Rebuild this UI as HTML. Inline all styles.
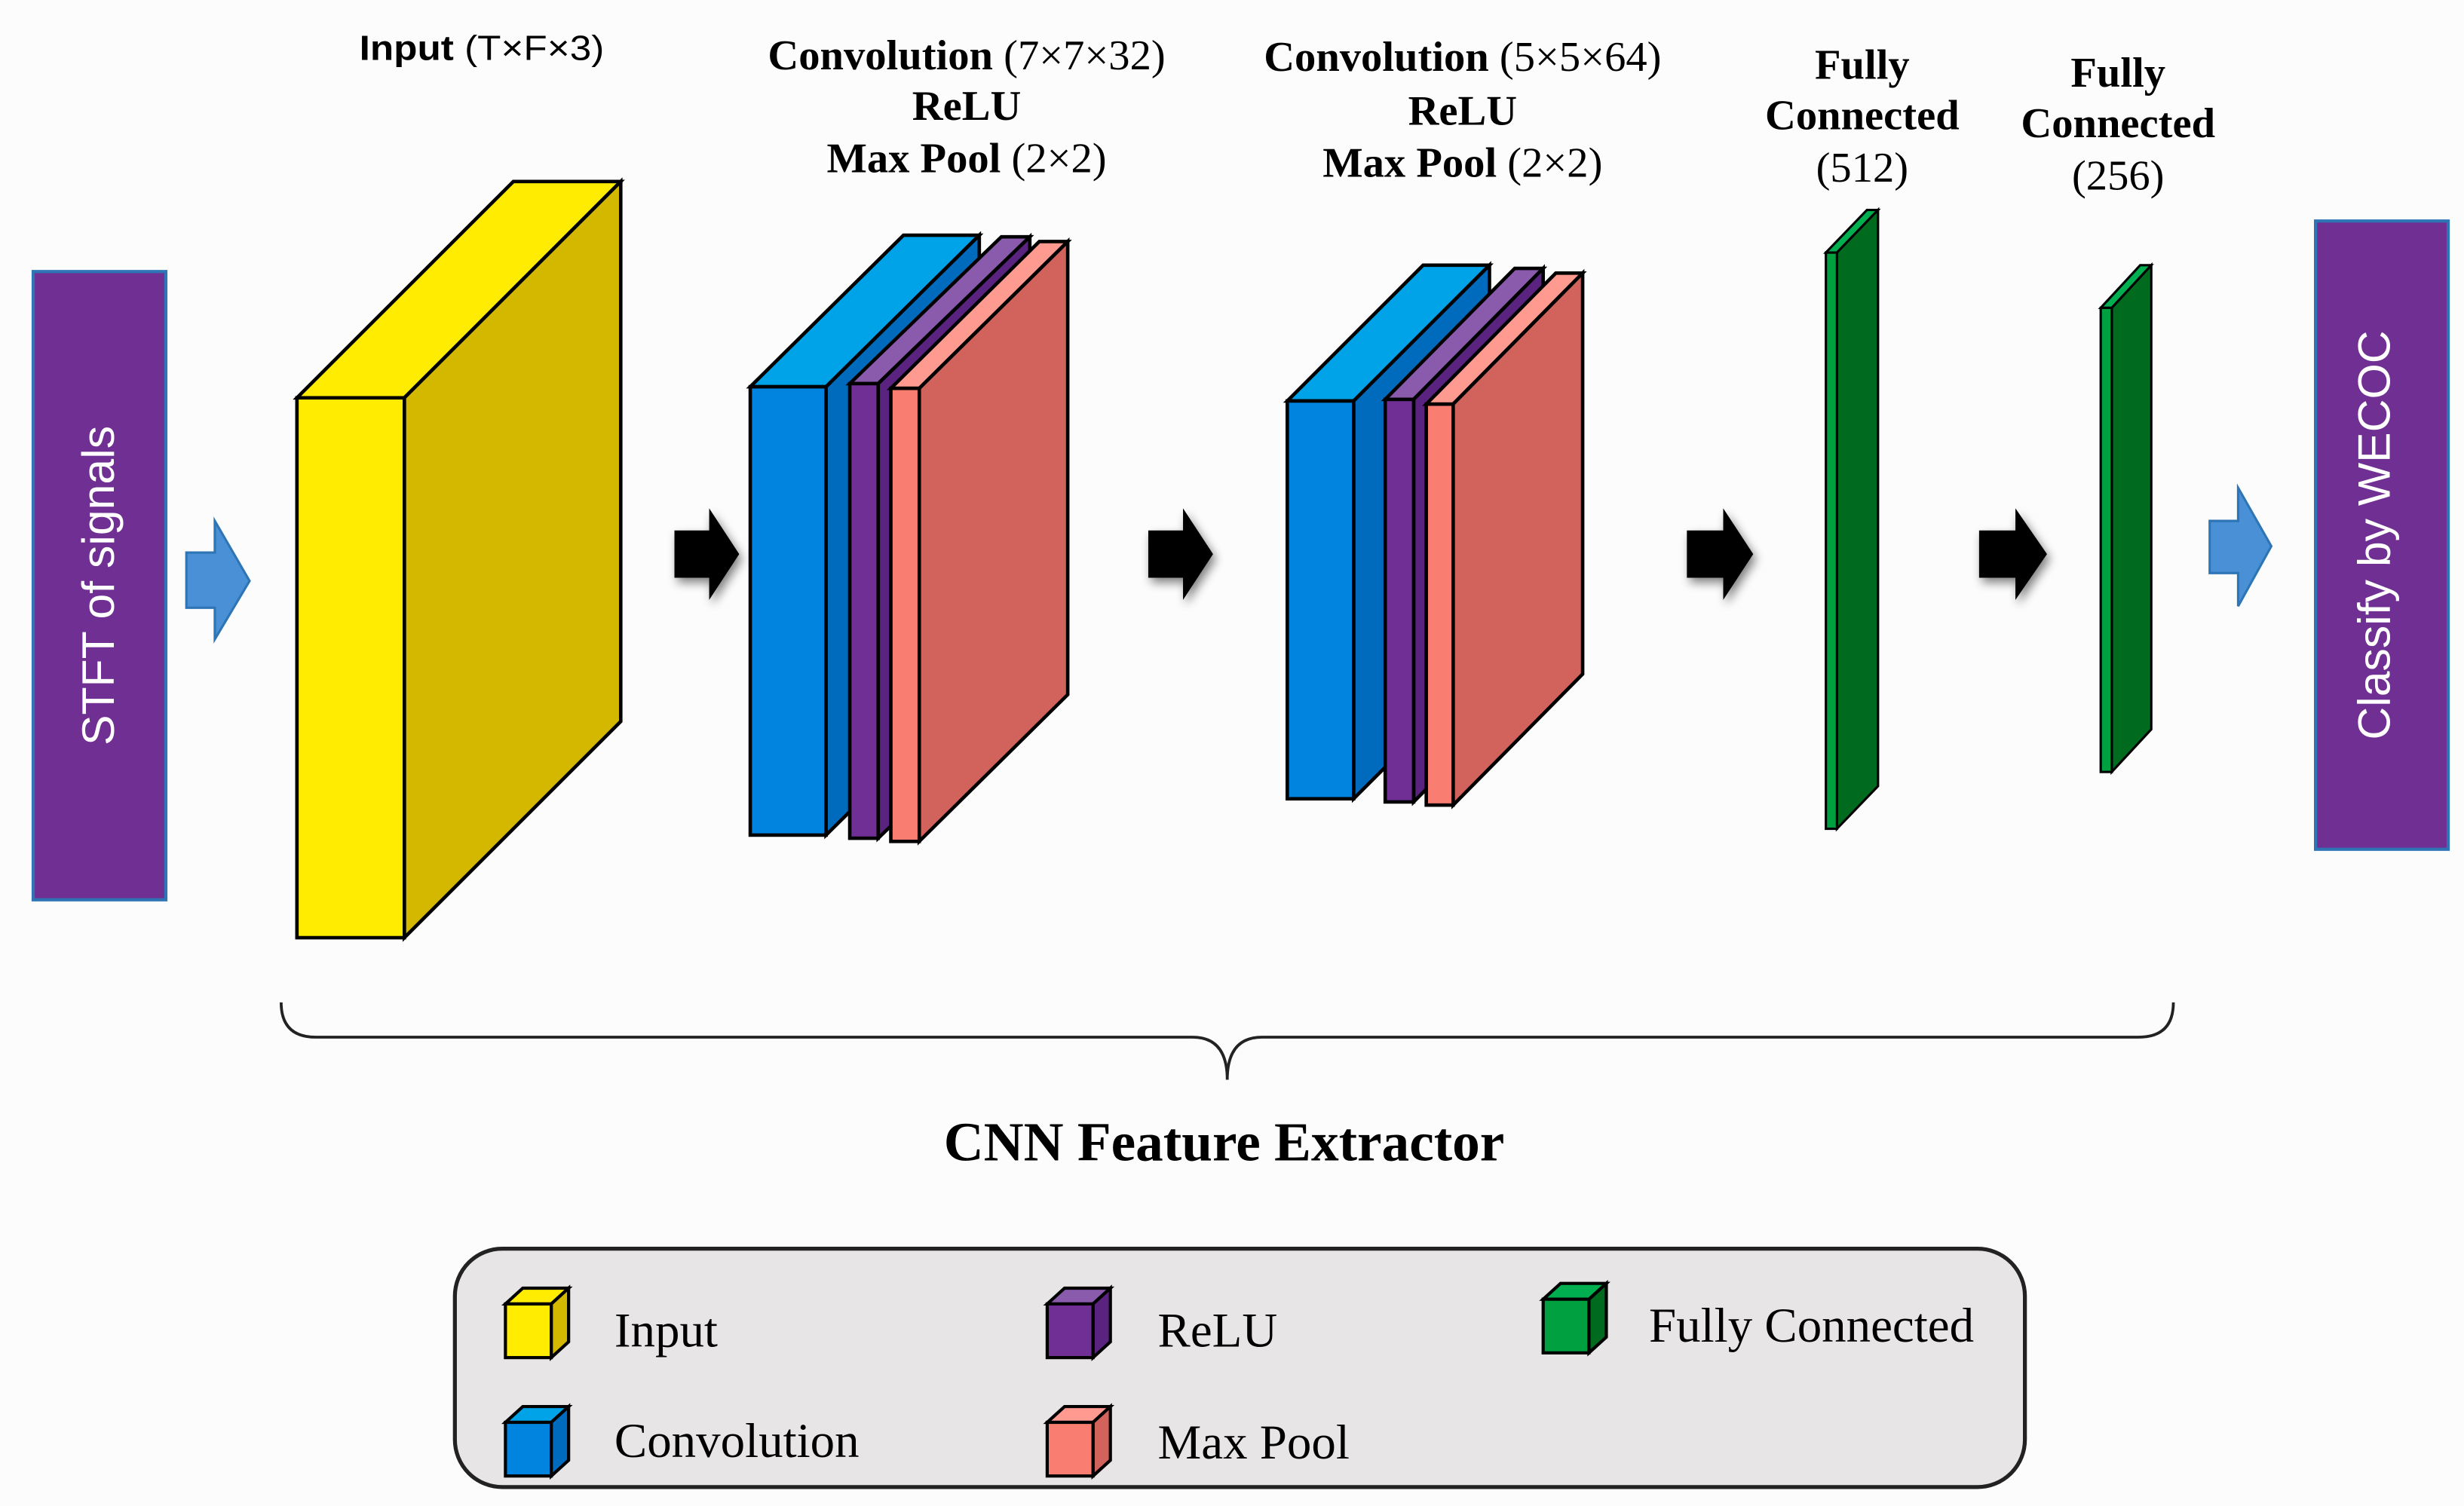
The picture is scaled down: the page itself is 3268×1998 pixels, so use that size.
<!DOCTYPE html>
<html><head><meta charset="utf-8"><style>
html,body{margin:0;padding:0;background:#fcfcfc;}
svg{display:block;}
.s{font-family:"Liberation Serif",serif;font-weight:bold;fill:#000;}
.n{font-family:"Liberation Serif",serif;font-weight:normal;}
.l{font-family:"Liberation Serif",serif;font-size:31px;fill:#000;}
</style></head><body>
<svg width="3268" height="1998" viewBox="0 0 1560 954" preserveAspectRatio="none" xmlns="http://www.w3.org/2000/svg">
<defs>
<filter id="sh" x="-30%" y="-30%" width="160%" height="160%"><feGaussianBlur in="SourceAlpha" stdDeviation="3"/><feOffset dx="2" dy="3"/><feComponentTransfer><feFuncA type="linear" slope="0.5"/></feComponentTransfer><feMerge><feMergeNode/><feMergeNode in="SourceGraphic"/></feMerge></filter>
</defs>
<rect width="1560" height="954" fill="#fcfcfc"/>
<g stroke="#000" stroke-width="2.2" stroke-linejoin="miter">
<rect x="21" y="172" width="84" height="398" fill="#702f92" stroke="#2e75b6" stroke-width="2"/>
<rect x="1466" y="140" width="84" height="398" fill="#702f92" stroke="#2e75b6" stroke-width="2"/>
<!-- yellow -->
<polygon points="188,252 256,252 393,115 325,115" fill="#ffec00"/>
<polygon points="256,252 393,115 393,457 256,594" fill="#d4b800"/>
<rect x="188" y="252" width="68" height="342" fill="#ffec00"/>
<!-- conv1 -->
<polygon points="475,245 523,245 620,149 572,149" fill="#00a3e8"/>
<polygon points="523,245 620,149 620,433 523,529" fill="#006bbd"/>
<rect x="475" y="245" width="48" height="284" fill="#0084e0"/>
<polygon points="538,243 556,243 652,150 634,150" fill="#8a5aad"/>
<polygon points="556,243 652,150 652,438 556,531" fill="#5a2380"/>
<rect x="538" y="243" width="18" height="288" fill="#702f94"/>
<polygon points="564,246 582,246 676,153 658,153" fill="#ff9a90"/>
<polygon points="582,246 676,153 676,440 582,533" fill="#d2625c"/>
<rect x="564" y="246" width="18" height="287" fill="#fa7d72"/>
<!-- conv2 -->
<polygon points="815,254 857,254 943,168 901,168" fill="#00a3e8"/>
<polygon points="857,254 943,168 943,420 857,506" fill="#006bbd"/>
<rect x="815" y="254" width="42" height="252" fill="#0084e0"/>
<polygon points="877,253 895,253 977,170 959,170" fill="#8a5aad"/>
<polygon points="895,253 977,170 977,425 895,508" fill="#5a2380"/>
<rect x="877" y="253" width="18" height="255" fill="#702f94"/>
<polygon points="903,256 920,256 1002,173 985,173" fill="#ff9a90"/>
<polygon points="920,256 1002,173 1002,427 920,510" fill="#d2625c"/>
<rect x="903" y="256" width="17" height="254" fill="#fa7d72"/>
<!-- FC -->
<polygon points="1156,160 1163,160 1189,133 1182,133" fill="#00b050" stroke-width="1.5"/>
<polygon points="1163,160 1189,133 1189,498 1163,525" fill="#006a1e" stroke-width="1.5"/>
<rect x="1156" y="160" width="7" height="365" fill="#00a040" stroke-width="1.5"/>
<polygon points="1330,195 1337,195 1362,168 1355,168" fill="#00b050" stroke-width="1.5"/>
<polygon points="1337,195 1362,168 1362,462 1337,489" fill="#006a1e" stroke-width="1.5"/>
<rect x="1330" y="195" width="7" height="294" fill="#00a040" stroke-width="1.5"/>
</g>
<polygon points="118,350 136,350 136,330 158,368 136,405 136,385 118,385" fill="#4a90d6" stroke="#2e75b6" stroke-width="1.5"/>
<polygon points="1399,330 1417,330 1417,309 1438,346 1417,384 1417,363 1399,363" fill="#4a90d6" stroke="#2e75b6" stroke-width="1.5"/>
<g fill="#000" filter="url(#sh)">
<polygon points="427,336 449,336 449,322 468,351 449,380 449,366 427,366"/>
<polygon points="727,336 749,336 749,322 768,351 749,380 749,366 727,366"/>
<polygon points="1068,336 1091,336 1091,322 1110,351 1091,380 1091,366 1068,366"/>
<polygon points="1253,336 1276,336 1276,322 1296,351 1276,380 1276,366 1253,366"/>
</g>
<text transform="translate(72,371) rotate(-90)" text-anchor="middle" font-family="Liberation Sans, sans-serif" font-size="29" fill="#fff">STFT of signals</text>
<text transform="translate(1513,339) rotate(-90)" text-anchor="middle" font-family="Liberation Sans, sans-serif" font-size="29" fill="#fff">Classify by WECOC</text>
<text x="305" y="38" text-anchor="middle" font-family="Liberation Sans, sans-serif" font-size="22" textLength="155" lengthAdjust="spacingAndGlyphs"><tspan font-weight="bold">Input</tspan> (T×F×3)</text>
<g class="s" font-size="27" text-anchor="middle">
<text x="612" y="44">Convolution <tspan class="n">(7×7×32)</tspan></text>
<text x="612" y="76">ReLU</text>
<text x="612" y="109">Max Pool <tspan class="n">(2×2)</tspan></text>
<text x="926" y="45">Convolution <tspan class="n">(5×5×64)</tspan></text>
<text x="926" y="79">ReLU</text>
<text x="926" y="112">Max Pool <tspan class="n">(2×2)</tspan></text>
<text x="1179" y="50">Fully</text>
<text x="1179" y="82">Connected</text>
<text x="1179" y="115" class="n">(512)</text>
<text x="1341" y="55">Fully</text>
<text x="1341" y="87">Connected</text>
<text x="1341" y="120" class="n">(256)</text>
<text x="775" y="735" font-size="35">CNN Feature Extractor</text>
</g>
<path d="M178,635 Q178,657 200,657 L755,657 Q777,657 777,684 Q777,657 799,657 L1354,657 Q1376,657 1376,635" fill="none" stroke="#222" stroke-width="1.8"/>
<rect x="288" y="791" width="994" height="151" rx="30" fill="#e7e5e5" stroke="#222" stroke-width="2.5"/>
<g stroke="#000" stroke-width="2">
<polygon points="320,826 349,826 360,816 331,816" fill="#ffec00"/><polygon points="349,826 360,816 360,850 349,860" fill="#d4b800"/><rect x="320" y="826" width="29" height="34" fill="#ffec00"/>
<polygon points="320,901 349,901 360,891 331,891" fill="#00a3e8"/><polygon points="349,901 360,891 360,925 349,935" fill="#006bbd"/><rect x="320" y="901" width="29" height="34" fill="#0084e0"/>
<polygon points="663,826 692,826 703,816 674,816" fill="#8a5aad"/><polygon points="692,826 703,816 703,850 692,860" fill="#5a2380"/><rect x="663" y="826" width="29" height="34" fill="#702f94"/>
<polygon points="663,901 692,901 703,891 674,891" fill="#ff9a90"/><polygon points="692,901 703,891 703,925 692,935" fill="#d2625c"/><rect x="663" y="901" width="29" height="34" fill="#fa7d72"/>
<polygon points="977,823 1006,823 1017,813 988,813" fill="#00b050"/><polygon points="1006,823 1017,813 1017,847 1006,857" fill="#006a1e"/><rect x="977" y="823" width="29" height="34" fill="#00a040"/>
</g>
<text class="l" x="389" y="853">Input</text>
<text class="l" x="389" y="923">Convolution</text>
<text class="l" x="733" y="853">ReLU</text>
<text class="l" x="733" y="924">Max Pool</text>
<text class="l" x="1044" y="850">Fully Connected</text>
</svg>
</body></html>
